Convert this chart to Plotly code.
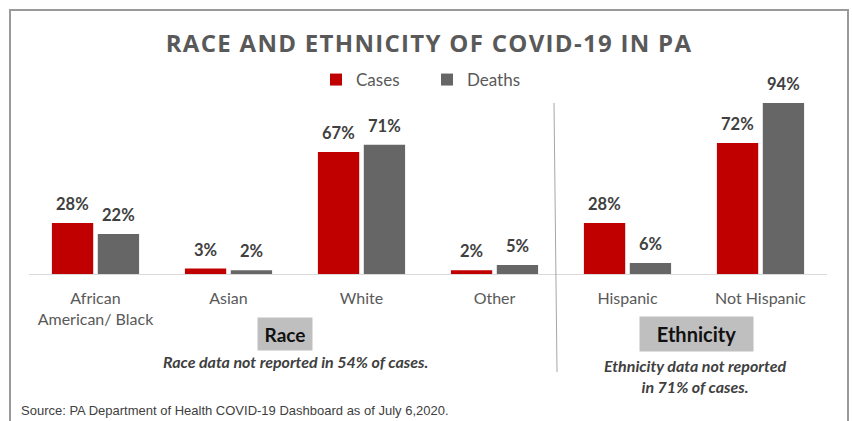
import plotly.graph_objects as go

categories = ["African<br>American/ Black", "Asian", "White", "Other", "Hispanic", "Not Hispanic"]
cases = [28, 3, 67, 2, 28, 72]
deaths = [22, 2, 71, 5, 6, 94]

W, H = 852, 421
L, R = 29, 827
T, B = 92, 274


def px(x):
    return (x - L) / (R - L)


def py(y):
    return (B - y) / (B - T)


label_font = dict(family="Lato", size=16.5, color="#404040", weight="bold")

BARGAP, GROUPGAP = 0.31, 0.1
slot = (1 - BARGAP) / 2

fig = go.Figure()
fig.add_trace(go.Bar(
    x=list(range(len(categories))), y=cases, name="Cases",
    marker=dict(color="#C00000", line=dict(width=0)),
))
fig.add_trace(go.Bar(
    x=list(range(len(categories))), y=deaths, name="Deaths",
    marker=dict(color="#666666", line=dict(width=0)),
))

shapes = [
    dict(type="rect", xref="paper", yref="paper", x0=px(10), x1=px(848), y0=py(440), y1=py(10),
         line=dict(color="#9a9a9a", width=2), fillcolor="rgba(0,0,0,0)", layer="below"),
    dict(type="line", xref="paper", yref="paper", x0=px(554), x1=px(557), y0=py(103), y1=py(372),
         line=dict(color="#a6a6a6", width=1)),
]

note_font = dict(family="Lato", size=16, color="#404040", style="italic", weight="bold")

annotations = []
for series, sign in ((cases, -1), (deaths, 1)):
    for i, v in enumerate(series):
        annotations.append(dict(
            text=f"{v}%", x=i + sign * slot / 2, y=v, xref="x", yref="y",
            xanchor="center", yanchor="middle", yshift=19, showarrow=False,
            font=label_font))

annotations += [
    dict(text="Race", xref="paper", yref="paper", x=px(285), y=py(334),
         xanchor="center", yanchor="middle", showarrow=False,
         font=dict(family="Lato", size=19, color="#111111", weight="bold"),
         bgcolor="#BFBFBF", width=54, height=32, borderpad=0),
    dict(text="Ethnicity", xref="paper", yref="paper", x=px(696), y=py(334),
         xanchor="center", yanchor="middle", showarrow=False,
         font=dict(family="Lato", size=20, color="#111111", weight="bold"),
         bgcolor="#BFBFBF", width=113, height=34, borderpad=0),
    dict(text="Race data not reported in 54% of cases.", xref="paper", yref="paper",
         x=px(295), y=py(361), xanchor="center", yanchor="middle", showarrow=False,
         font=note_font),
    dict(text="Ethnicity data not reported<br>in 71% of cases.", xref="paper", yref="paper",
         x=px(695), y=py(376), xanchor="center", yanchor="middle", showarrow=False,
         font=note_font),
    dict(text="Source: PA Department of Health COVID-19 Dashboard as of July 6,2020.",
         xref="paper", yref="paper", x=px(19), y=py(410), xanchor="left", yanchor="middle",
         showarrow=False,
         font=dict(family="Liberation Sans", size=13, color="#404040")),
]

fig.update_layout(
    width=W, height=H,
    margin=dict(l=L, r=W - R, t=T, b=H - B),
    paper_bgcolor="white", plot_bgcolor="white",
    barmode="group", bargap=BARGAP, bargroupgap=GROUPGAP,
    title=dict(text='<span style="letter-spacing:1.3px">RACE AND ETHNICITY OF COVID-19 IN PA</span>',
               x=429 / W, xanchor="center", xref="container",
               y=1 - 44 / H, yanchor="middle", yref="container",
               font=dict(family="Open Sans", size=24, color="#595959", weight="bold")),
    legend=dict(orientation="h", x=px(316), y=py(80), xanchor="left", yanchor="middle",
                font=dict(family="Lato", size=17, color="#595959"),
                itemwidth=30, entrywidth=66, traceorder="normal", bgcolor="rgba(0,0,0,0)"),
    xaxis=dict(tickmode="array", tickvals=list(range(len(categories))), ticktext=categories,
               range=[-0.5, len(categories) - 0.5], showline=True, linecolor="#d9d9d9",
               linewidth=1, showgrid=False, ticks="", ticklabelstandoff=10,
               tickfont=dict(family="Lato", size=16, color="#595959")),
    yaxis=dict(range=[0, 100], visible=False, showgrid=False),
    shapes=shapes, annotations=annotations,
)

fig.write_html("out.html")
